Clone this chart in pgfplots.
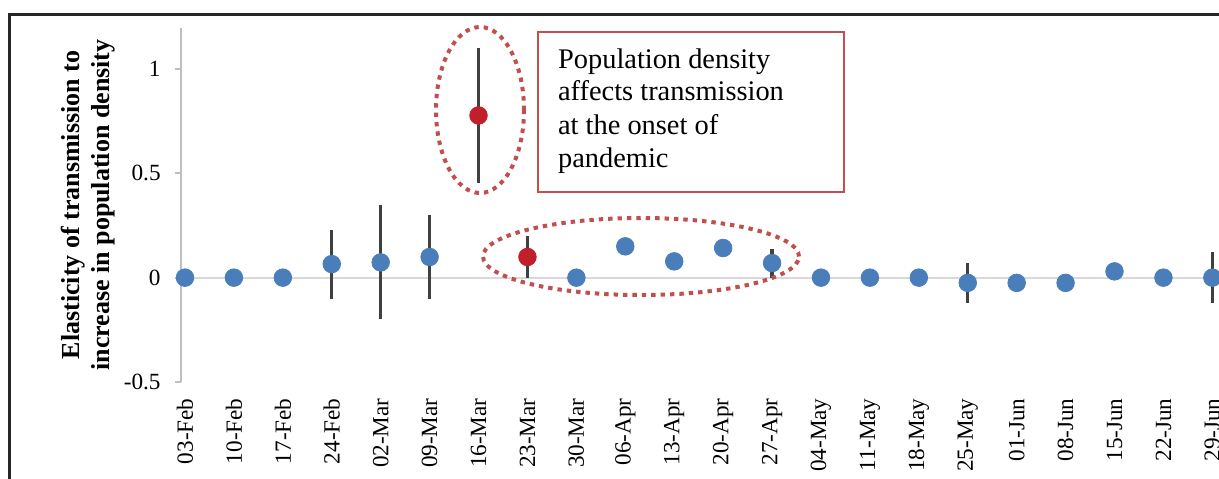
\documentclass[border=0pt]{standalone}
\usepackage{pgfplots}
\pgfplotsset{compat=1.18}
\usepackage{pgfplotstable}
\usepackage{fontspec}
\setmainfont{Liberation Serif}
\definecolor{ptblue}{HTML}{4A7EBB}
\definecolor{ptred}{HTML}{C0202A}
\definecolor{annred}{HTML}{C0504D}
\definecolor{errgray}{HTML}{404040}
\definecolor{axgray}{HTML}{BFBFBF}
\definecolor{zerogray}{HTML}{D9D9D9}

\pgfplotstableread{
x y ep em
0 0 0 0
1 0 0 0
2 0 0 0
3 0.065 0.165 0.165
4 0.073 0.277 0.273
5 0.099 0.199 0.199
8 0 0 0
9 0.150 0 0
10 0.078 0 0
11 0.142 0 0
12 0.070 0.067 0.070
13 0 0 0
14 0 0 0
15 0 0 0
16 -0.025 0.095 0.096
17 -0.025 0 0
18 -0.025 0 0
19 0.030 0 0
20 0 0 0
21 0 0.121 0.121
}\bluedata

\pgfplotstableread{
x y ep em
6 0.777 0.322 0.324
7 0.099 0.099 0.099
}\reddata

\begin{document}
\begin{tikzpicture}
\begin{axis}[
  at={(90.5pt,-191pt)}, anchor=south west,
  scale only axis,
  width=527.9pt, height=177pt,
  xmin=-0.0818, xmax=21.5,
  ymin=-0.5, ymax=1.196,
  axis lines=left,
  axis line style={-},
  x axis line style={draw=none},
  y axis line style={color=axgray, line width=1pt},
  xtick={0,...,21},
  xticklabels={03-Feb,10-Feb,17-Feb,24-Feb,02-Mar,09-Mar,16-Mar,23-Mar,30-Mar,06-Apr,13-Apr,20-Apr,27-Apr,04-May,11-May,18-May,25-May,01-Jun,08-Jun,15-Jun,22-Jun,29-Jun},
  xtick style={draw=none},
  xticklabel style={rotate=90, anchor=east, inner sep=0pt, font=\fontsize{11.6}{13}\selectfont},
  xticklabel shift=5pt,
  ytick={-0.5,0,0.5,1},
  yticklabels={-0.5,0,0.5,1},
  ytick style={color=axgray, line width=1pt},
  tick align=outside,
  major tick length=3pt,
  yticklabel style={anchor=east, inner sep=0pt, font=\fontsize{11.6}{13}\selectfont},
  yticklabel shift=7pt,
  ylabel={Elasticity of transmission to\\increase in population density},
  ylabel style={at={(axis description cs:-0.0882,0.5)}, anchor=center, rotate=0, align=center, font=\bfseries\fontsize{13}{15}\selectfont},
  clip=false,
]
\addplot[color=zerogray, line width=1pt, no marks, forget plot] coordinates {(-0.0818,0) (21.5,0)};
\addplot[only marks, mark=*, mark size=4.4pt, mark options={fill=ptblue, draw=ptblue},
  error bars/.cd, y dir=both, y explicit, error mark=none,
  error bar style={line width=1.65pt, color=errgray, line cap=butt}]
  table[x=x, y=y, y error plus=ep, y error minus=em] {\bluedata};
\addplot[only marks, mark=*, mark size=4.4pt, mark options={fill=ptred, draw=ptred},
  error bars/.cd, y dir=both, y explicit, error mark=none,
  error bar style={line width=1.65pt, color=errgray, line cap=butt}]
  table[x=x, y=y, y error plus=ep, y error minus=em] {\reddata};
\end{axis}
\begin{scope}[x=0.5pt,y=-0.5pt]
% annotations
\draw[annred, line width=2pt, dash pattern=on 2.2pt off 2.5pt] (480,110) ellipse [x radius=22pt, y radius=41.5pt];
\draw[annred, line width=2pt, dash pattern=on 2.2pt off 2.5pt] (641,256.5) ellipse [x radius=79pt, y radius=19.25pt];
\draw[annred, line width=0.8pt] (538,32) rectangle (844,192);
\begin{scope}[every node/.style={anchor=base west, inner sep=0pt, font=\fontsize{14.2}{16.5}\selectfont}]
\node at (557.7,68) {Population density};
\node at (557.7,100.7) {affects transmission};
\node at (557.7,134) {at the onset of};
\node at (557.7,167.3) {pandemic};
\end{scope}
% frame
\draw[line width=1.75pt, color=black!85] (9.5,600) -- (9.5,14.5) -- (1300,14.5);
\pgfresetboundingbox
\useasboundingbox (0,0) rectangle (1219,478);
\end{scope}
\end{tikzpicture}
\end{document}
